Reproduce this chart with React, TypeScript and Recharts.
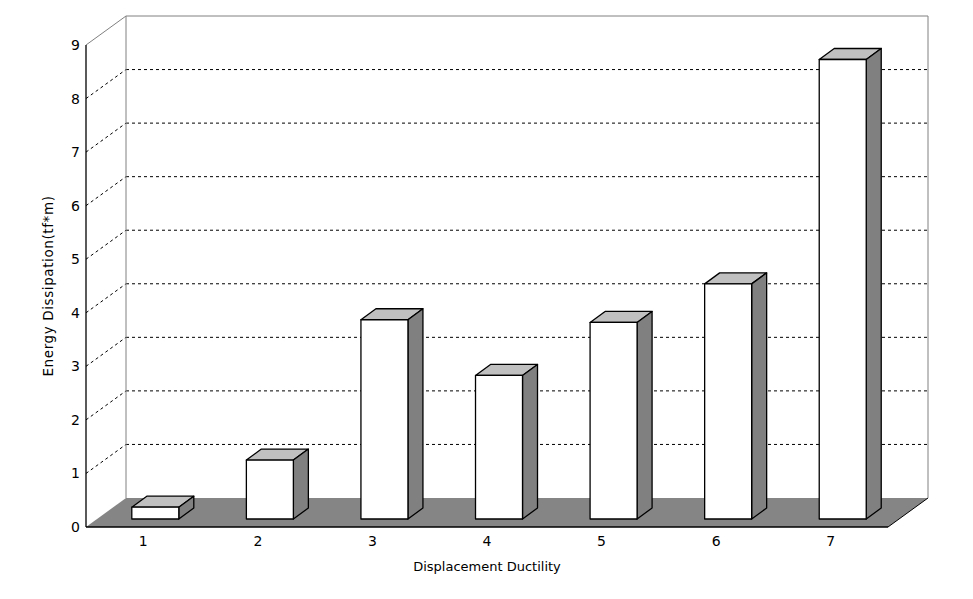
import { BarChart, Bar, XAxis, YAxis, CartesianGrid } from "recharts";

// values
const ductility = ["1", "2", "3", "4", "5", "6", "7"];
const energy = [0.22, 1.1, 3.72, 2.68, 3.67, 4.39, 8.58];
const yTicks = [0, 1, 2, 3, 4, 5, 6, 7, 8, 9];

const data = ductility.map((d, i) => ({ ductility: d, energy: energy[i] }));

// layout
const W = 965;
const H = 583;
const PLOT_TOP = 37;
const PLOT_BOTTOM = 519;
const DX = 40; // depth of the floor / back wall
const DY = 29;
const BAR_OX = 12; // bar front plane inset
const BAR_OY = 8;
const BAR_DX = 15; // bar depth
const BAR_DY = 11;
const FONT = "'DejaVu Sans', sans-serif";

const GridLine = (props: any) => {
  const { x1, x2, y1 } = props;
  if (Math.abs(y1 - PLOT_BOTTOM) < 1) {
    return (
      <g>
        <polygon
          points={`${x1},${y1} ${x1 + DX},${y1 - DY} ${x2 + DX},${y1 - DY} ${x2},${y1}`}
          fill="#858585"
          stroke="none"
        />
        <line x1={x2} y1={y1} x2={x2 + DX} y2={y1 - DY} stroke="#000" strokeWidth={1} />
      </g>
    );
  }
  if (Math.abs(y1 - PLOT_TOP) < 1) {
    return (
      <g stroke="#808080" strokeWidth={1} fill="none">
        <line x1={x1} y1={y1} x2={x1 + DX} y2={y1 - DY} />
        <line x1={x1 + DX} y1={y1 - DY} x2={x2 + DX} y2={y1 - DY} />
        <line x1={x1 + DX} y1={y1 - DY} x2={x1 + DX} y2={PLOT_BOTTOM - DY} />
        <line x1={x2 + DX} y1={y1 - DY} x2={x2 + DX} y2={PLOT_BOTTOM - DY} />
      </g>
    );
  }
  return (
    <g stroke="#000" strokeWidth={1} strokeDasharray="3 3" fill="none">
      <line x1={x1} y1={y1} x2={x1 + DX} y2={y1 - DY} />
      <line x1={x1 + DX} y1={y1 - DY} x2={x2 + DX} y2={y1 - DY} />
    </g>
  );
};

const Box = (props: any) => {
  const { x, y, width, height } = props;
  const fx = x + BAR_OX;
  const fy = y - BAR_OY;
  const w = width;
  const h = height;
  return (
    <g stroke="#000" strokeWidth={1.3} strokeLinejoin="round">
      <polygon
        points={`${fx},${fy} ${fx + BAR_DX},${fy - BAR_DY} ${fx + w + BAR_DX},${fy - BAR_DY} ${fx + w},${fy}`}
        fill="#c0c0c0"
      />
      <polygon
        points={`${fx + w},${fy} ${fx + w + BAR_DX},${fy - BAR_DY} ${fx + w + BAR_DX},${fy + h - BAR_DY} ${fx + w},${fy + h}`}
        fill="#808080"
      />
      <rect x={fx} y={fy} width={w} height={h} fill="#fff" />
    </g>
  );
};

export default function App() {
  return (
    <div style={{ width: W, height: H, background: "#fff" }}>
      <BarChart
        width={W}
        height={H}
        data={data}
        margin={{ top: PLOT_TOP, right: 85, left: 18, bottom: 8 }}
        barCategoryGap="29.5%"
      >
        <CartesianGrid vertical={false} horizontal={GridLine} />
        <XAxis
          dataKey="ductility"
          height={56}
          tickLine={false}
          tickSize={6}
          tickMargin={3}
          axisLine={{ stroke: "#000", strokeWidth: 1.3 }}
          tick={{ fill: "#000", fontSize: 14, fontFamily: FONT }}
          label={{
            value: "Displacement Ductility",
            position: "insideBottom",
            offset: 12,
            fill: "#000",
            fontSize: 13,
            fontFamily: FONT,
          }}
        />
        <YAxis
          width={60}
          domain={[0, 9]}
          ticks={yTicks}
          interval={0}
          tickLine={false}
          tickSize={4}
          tickMargin={2}
          axisLine={{ stroke: "#000", strokeWidth: 1.3 }}
          tick={{ fill: "#000", fontSize: 14, fontFamily: FONT }}
          label={{
            value: "Energy Dissipation(tf*m)",
            angle: -90,
            position: "center",
            dx: -8,
            fill: "#000",
            fontSize: 13.5,
            letterSpacing: 0.6,
            fontFamily: FONT,
          }}
        />
        <Bar dataKey="energy" shape={Box} isAnimationActive={false} />
      </BarChart>
    </div>
  );
}
